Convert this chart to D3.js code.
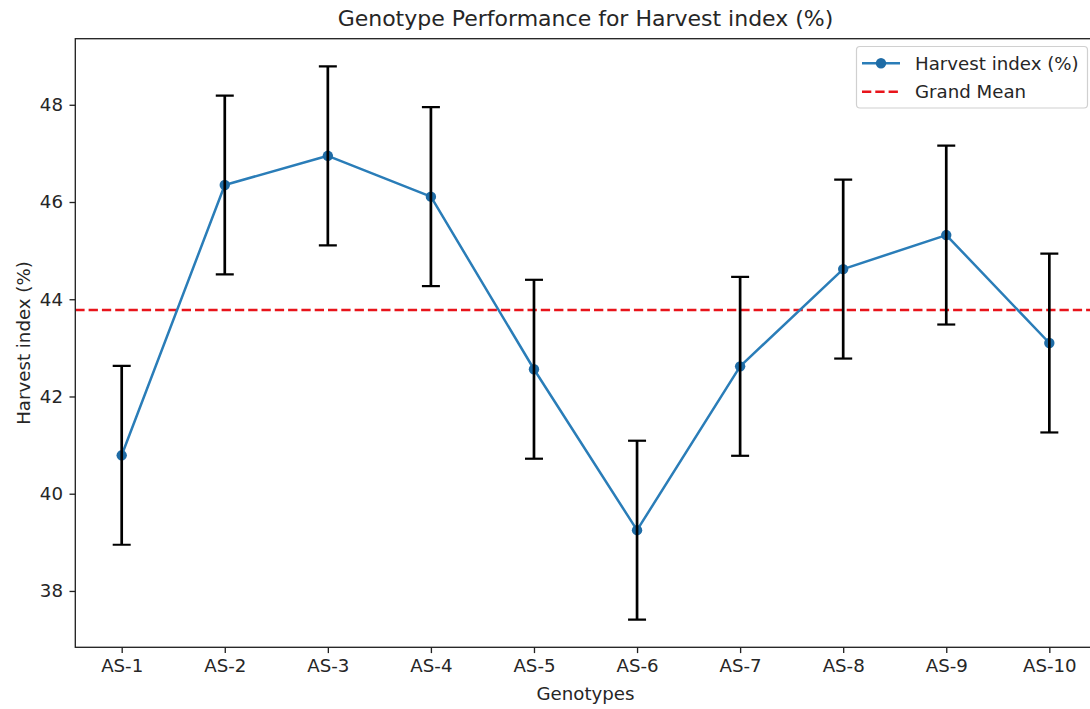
<!DOCTYPE html>
<html><head><meta charset="utf-8">
<script src="https://cdn.jsdelivr.net/npm/d3@7"></script>
<style>
body{margin:0;background:#fff;}
svg{display:block;font-family:"DejaVu Sans",sans-serif;}
</style></head>
<body>
<svg id="chart" width="1090" height="709"></svg>
<script>
const genotypes = ["AS-1","AS-2","AS-3","AS-4","AS-5","AS-6","AS-7","AS-8","AS-9","AS-10"];
const means = [40.79, 46.35, 46.95, 46.11, 42.56, 39.25, 42.62, 44.62, 45.32, 43.10];
const errors = [1.84, 1.84, 1.84, 1.84, 1.84, 1.84, 1.84, 1.84, 1.84, 1.84];
const grandMean = 43.78;
const yTicks = [38, 40, 42, 44, 46, 48];
const titleText = "Genotype Performance for Harvest index (%)";
const xLabel = "Genotypes";
const yLabel = "Harvest index (%)";
const legendLabels = ["Harvest index (%)", "Grand Mean"];

const svg = d3.select("#chart");
const L = 75.3, T = 38.7, B = 647.3;
const step = 103.07;
const x0 = 121.7;
const x = d3.scaleLinear().domain([-0.45, 9.45]).range([x0 - 0.45*step, x0 + 9.45*step]);
const lo = d3.min(means.map((m,i)=>m-errors[i])), hi = d3.max(means.map((m,i)=>m+errors[i]));
const pad = (hi - lo) * 0.05;
const y = d3.scaleLinear().domain([lo - pad, hi + pad]).range([B, T]);
const R = x(9.45);
const fs = 18.2;
const textCol = "#262626";

// clip
svg.append("defs").append("clipPath").attr("id","clip").append("rect")
  .attr("x",L).attr("y",T).attr("width",R-L).attr("height",B-T);

const plot = svg.append("g").attr("clip-path","url(#clip)");

// grand mean line
plot.append("line").attr("x1",L).attr("x2",R).attr("y1",y(grandMean)).attr("y2",y(grandMean))
  .attr("stroke","#e8141b").attr("stroke-width",2.5).attr("stroke-dasharray","9.3,4");

// data line
const line = d3.line().x((d,i)=>x(i)).y(d=>y(d));
plot.append("path").datum(means).attr("d",line).attr("fill","none")
  .attr("stroke","#2a7db8").attr("stroke-width",2.5).attr("stroke-linejoin","round");
plot.selectAll("circle.pt").data(means).enter().append("circle").attr("class","pt")
  .attr("cx",(d,i)=>x(i)).attr("cy",d=>y(d)).attr("r",5.2).attr("fill","#1f6ca6");

// error bars
const eb = plot.selectAll("g.eb").data(means).enter().append("g").attr("class","eb");
eb.append("line").attr("x1",(d,i)=>x(i)).attr("x2",(d,i)=>x(i))
  .attr("y1",(d,i)=>y(d-errors[i])).attr("y2",(d,i)=>y(d+errors[i]))
  .attr("stroke","#000").attr("stroke-width",2.7);
eb.append("line").attr("x1",(d,i)=>x(i)-9).attr("x2",(d,i)=>x(i)+9)
  .attr("y1",(d,i)=>y(d+errors[i])).attr("y2",(d,i)=>y(d+errors[i]))
  .attr("stroke","#000").attr("stroke-width",2.2);
eb.append("line").attr("x1",(d,i)=>x(i)-9).attr("x2",(d,i)=>x(i)+9)
  .attr("y1",(d,i)=>y(d-errors[i])).attr("y2",(d,i)=>y(d-errors[i]))
  .attr("stroke","#000").attr("stroke-width",2.2);

// axes
const xAxis = d3.axisBottom(x).tickValues(d3.range(genotypes.length)).tickFormat(i=>genotypes[i])
  .tickSize(5.8).tickPadding(5.5);
const gx = svg.append("g").attr("transform",`translate(0,${B})`).call(xAxis);
const yAxis = d3.axisLeft(y).tickValues(yTicks).tickFormat(d3.format("d")).tickSize(5.8).tickPadding(6.5);
const gy = svg.append("g").attr("transform",`translate(${L},0)`).call(yAxis);
[gx,gy].forEach(g=>{
  g.select(".domain").remove();
  g.selectAll(".tick line").attr("stroke","#222").attr("stroke-width",1.33);
  g.selectAll(".tick text").attr("fill",textCol).attr("font-size",fs).attr("font-family","DejaVu Sans");
});
gx.selectAll(".tick text").attr("dy","0.72em");

// spines
svg.append("rect").attr("x",L).attr("y",T).attr("width",R-L).attr("height",B-T)
  .attr("fill","none").attr("stroke","#222").attr("stroke-width",1.33);

// title and labels
svg.append("text").attr("x",(L+R)/2).attr("y",26).attr("text-anchor","middle")
  .attr("font-size",22).attr("fill",textCol).text(titleText);
svg.append("text").attr("x",(L+R)/2).attr("y",700).attr("text-anchor","middle")
  .attr("font-size",fs).attr("fill",textCol).text(xLabel);
svg.append("text").attr("transform",`translate(29.5,${(T+B)/2}) rotate(-90)`).attr("text-anchor","middle")
  .attr("font-size",fs).attr("fill",textCol).text(yLabel);

// legend
const lg = svg.append("g");
lg.append("rect").attr("x",856.5).attr("y",46.5).attr("width",231).attr("height",61.5).attr("rx",3.5)
  .attr("fill","#fff").attr("fill-opacity",0.8).attr("stroke","#d0d0d0").attr("stroke-width",1.2);
const rows = [63.3, 91.7];
lg.append("line").attr("x1",862).attr("x2",900).attr("y1",rows[0]).attr("y2",rows[0])
  .attr("stroke","#2a7db8").attr("stroke-width",2.5);
lg.append("circle").attr("cx",881).attr("cy",rows[0]).attr("r",5.2).attr("fill","#1f6ca6");
lg.append("line").attr("x1",862).attr("x2",900).attr("y1",rows[1]).attr("y2",rows[1])
  .attr("stroke","#e8141b").attr("stroke-width",2.5).attr("stroke-dasharray","9.3,4");
legendLabels.forEach((t,i)=>{
  lg.append("text").attr("x",915).attr("y",rows[i]).attr("dy","0.36em")
    .attr("font-size",fs).attr("fill",textCol).text(t);
});
</script>
</body></html>
